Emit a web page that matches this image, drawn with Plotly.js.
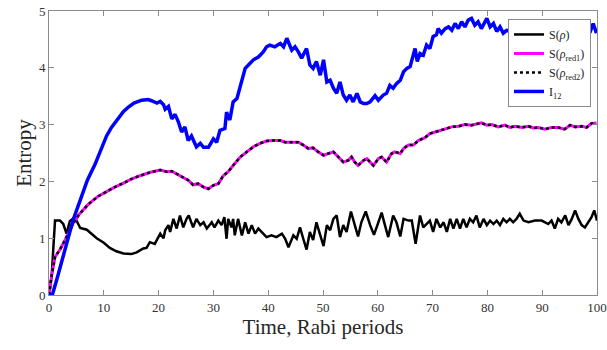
<!DOCTYPE html>
<html>
<head>
<meta charset="utf-8">
<script src="https://cdn.plot.ly/plotly-3.0.1.min.js"></script>
<style>html,body{margin:0;padding:0;background:#fff;}#chart{width:607px;height:350px;}</style>
</head>
<body>
<div id="chart"></div>
<script>
// S(rho)
const tS = [0,0.5,0.8,1.1,2.0,2.6,3.2,3.8,4.7,5.7,6.9,7.8,8.7,10,11.1,12.3,13.6,15,16,17.2,17.8,18.4,19.3,20.3,20.9,21.2,21.8,22.1,22.7,23.3,23.9,24.5,25.1,25.5,26.3,26.9,27.6,28.2,28.8,29.7,30.2,30.9,31.5,32.0,32.4,32.7,33.3,33.6,33.9,34.5,35.2,35.8,36.4,37.0,37.6,38.2,38.8,39.7,40.6,41.5,42.5,43.1,43.7,44.6,45.2,45.8,46.4,47.0,47.6,48.2,48.8,49.5,50.1,50.7,51.3,51.9,52.5,53.1,53.7,54.3,55.1,55.8,56.4,57.0,57.8,58.6,59.3,60.1,60.7,61.3,61.9,62.8,63.4,64.1,64.7,65.6,66.2,66.9,67.7,68.3,68.9,69.5,70.1,70.7,71.4,72.0,72.6,73.2,73.8,74.4,75.0,75.6,76.2,76.8,77.4,78.0,78.6,79.3,79.9,80.5,81.1,81.7,82.3,82.9,83.5,84.1,84.7,85.3,85.9,86.6,87.5,88.7,89.9,91.1,91.7,92.3,92.9,93.5,94.2,94.8,95.4,96.0,96.6,97.2,97.8,98.4,99.0,99.5,100];
const S = [0,0.35,0.84,1.31,1.31,1.25,1.08,1.30,1.37,1.18,1.15,1.08,1.00,0.92,0.83,0.77,0.73,0.72,0.75,0.82,0.83,0.93,0.90,1.08,1.00,1.14,1.23,1.11,1.34,1.17,1.40,1.19,1.34,1.40,1.19,1.34,1.23,1.28,1.17,1.28,1.19,1.31,1.23,1.37,0.99,1.34,1.19,1.34,1.05,1.34,1.05,1.28,1.08,1.23,1.08,1.17,1.11,1.02,1.05,1.02,1.08,0.99,0.84,1.05,0.99,1.19,0.99,0.80,1.11,0.97,1.28,1.05,0.86,1.23,1.14,1.34,1.40,1.02,1.23,1.11,1.47,1.23,1.03,1.28,1.47,1.23,1.06,1.28,1.45,1.23,1.02,1.40,1.28,1.03,1.34,1.31,1.31,0.90,1.40,1.19,1.25,1.31,1.11,1.34,1.19,1.28,1.11,1.34,1.17,1.34,1.17,1.34,1.19,1.34,1.28,1.40,1.19,1.34,1.23,1.31,1.25,1.31,1.23,1.34,1.28,1.34,1.28,1.34,1.43,1.31,1.28,1.31,1.31,1.25,1.31,1.17,1.34,1.28,1.40,1.23,1.34,1.49,1.34,1.23,1.19,1.28,1.37,1.49,1.31];

// S(rho_red1) = S(rho_red2)
const tRed = [0,0.5,1.1,2.0,3.0,4.4,5.5,7.2,9.0,10.5,12.0,13.6,15.0,16.6,18.5,20.3,21.5,22.4,23.6,24.2,25.4,26.3,27.2,28.2,29.1,30.0,30.9,31.8,32.7,33.6,34.9,36.1,37.3,38.5,39.7,40.9,42.2,43.1,44.3,45.5,46.4,47.3,48.2,49.1,50.1,51.0,51.9,52.8,53.7,54.6,55.2,55.8,56.4,57.4,58.0,58.6,59.2,60.1,60.7,61.6,62.5,63.1,64.1,64.7,65.6,66.5,67.4,68.6,69.5,70.5,71.4,72.3,73.5,74.7,75.9,77.1,78.3,78.9,79.9,80.8,82.0,83.2,84.1,85.0,86.3,87.5,88.4,89.3,90.5,91.7,92.9,94.1,95.1,96.0,97.2,98.1,99.0,99.9];
const Sred = [0,0.35,0.67,0.80,0.98,1.26,1.42,1.60,1.74,1.82,1.90,1.97,2.04,2.10,2.16,2.20,2.17,2.18,2.12,2.08,2.02,1.94,1.96,1.90,1.87,1.93,1.96,2.10,2.17,2.28,2.43,2.52,2.61,2.67,2.71,2.72,2.72,2.69,2.69,2.69,2.64,2.58,2.59,2.52,2.46,2.49,2.52,2.43,2.34,2.37,2.43,2.34,2.28,2.37,2.40,2.34,2.28,2.40,2.43,2.34,2.49,2.52,2.49,2.58,2.64,2.64,2.72,2.77,2.84,2.87,2.90,2.93,2.96,2.97,3.00,2.99,3.01,3.03,2.99,3.00,2.96,2.99,2.95,2.97,2.95,2.97,2.94,2.95,2.92,2.95,2.95,2.92,2.99,2.96,2.97,2.95,3.02,3.03];

// I12
const tI = [0,0.6,1.5,2.5,3.5,4.4,5.7,7.0,8.4,9.5,10.5,11.4,12.5,13.6,14.5,15.5,16.9,18.1,18.7,19.7,20.3,20.9,21.2,21.8,22.4,23.0,23.6,24.2,24.8,25.4,26.0,26.9,27.6,28.2,29.1,30.0,30.6,31.2,32.1,32.4,33.0,33.6,34.3,35.2,35.8,36.7,37.3,38.2,39.1,39.7,40.3,41.2,42.2,42.8,43.4,44.3,44.9,45.5,46.1,47.0,47.6,48.2,48.8,49.5,50.1,50.7,51.3,51.9,52.5,53.1,53.7,54.3,54.9,55.5,56.2,56.8,57.4,58.0,58.6,59.5,60.1,61.0,61.6,62.2,62.8,63.4,64.1,64.7,65.3,65.9,66.8,67.2,67.7,68.3,68.9,69.5,70.1,70.7,71.0,71.6,72.3,72.9,73.5,74.1,74.7,75.3,75.9,76.5,77.1,77.7,78.3,78.9,79.6,79.9,80.5,81.1,81.7,82.3,82.9,83.5,84.4,85.3,85.9,86.5,87.2,88,89,90,91,92,93,94,95,96,97,98,98.7,99.3,99.9];
const I12 = [0,0,0.30,0.65,1.00,1.32,1.67,2.02,2.30,2.58,2.80,2.95,3.10,3.23,3.31,3.38,3.43,3.44,3.42,3.38,3.41,3.35,3.27,3.32,3.10,3.18,3.05,2.87,2.96,2.72,2.80,2.61,2.67,2.60,2.60,2.75,2.69,2.90,2.93,3.22,3.08,3.40,3.46,3.75,3.99,4.08,4.14,4.19,4.28,4.37,4.40,4.37,4.43,4.37,4.52,4.31,4.37,4.28,4.17,4.34,4.05,3.99,4.11,3.87,4.14,3.75,3.78,3.64,3.55,3.75,3.52,3.43,3.52,3.40,3.55,3.40,3.37,3.37,3.40,3.51,3.43,3.52,3.55,3.69,3.64,3.72,3.78,3.93,3.99,4.02,4.34,4.11,4.25,4.22,4.40,4.34,4.55,4.58,4.69,4.61,4.69,4.72,4.66,4.78,4.69,4.81,4.72,4.84,4.87,4.75,4.81,4.69,4.84,4.87,4.72,4.78,4.64,4.72,4.61,4.66,4.64,4.61,4.55,4.64,4.58,4.66,4.60,4.68,4.62,4.70,4.63,4.71,4.65,4.72,4.66,4.73,4.62,4.78,4.61];

const names = ['S(<i>ρ</i>)', 'S(<i>ρ</i><sub>red1</sub>)', 'S(<i>ρ</i><sub>red2</sub>)', 'I<sub>12</sub>'];

const FONT = 'Liberation Serif, Times New Roman, serif';
const traces = [
  {x: tS, y: S, name: names[0], mode: 'lines', line: {color: '#000000', width: 2.5}},
  {x: tRed, y: Sred, name: names[1], mode: 'lines', line: {color: '#ff00ff', width: 3}},
  {x: tRed, y: Sred, name: names[2], mode: 'lines', line: {color: '#000000', width: 2.5, dash: 'dot'}},
  {x: tI, y: I12, name: names[3], mode: 'lines', line: {color: '#0000ff', width: 3.5}}
];

const axisCommon = {
  showgrid: false, zeroline: false, showline: true, mirror: 'ticks',
  linecolor: '#8a8a8a', linewidth: 1, ticks: 'inside', ticklen: 5, tickcolor: '#8a8a8a',
  tickfont: {family: FONT, size: 13, color: '#333333'}
};

const layout = {
  width: 607, height: 350,
  margin: {l: 49, r: 10, t: 11, b: 55},
  paper_bgcolor: '#ffffff', plot_bgcolor: '#ffffff',
  font: {family: FONT, color: '#333333'},
  xaxis: Object.assign({}, axisCommon, {
    range: [0, 100], tickvals: [0,10,20,30,40,50,60,70,80,90,100],
    title: {text: 'Time, Rabi periods', font: {family: FONT, size: 21, color: '#262626'}, standoff: 4}
  }),
  yaxis: Object.assign({}, axisCommon, {
    range: [0, 5], tickvals: [0,1,2,3,4,5],
    title: {text: 'Entropy', font: {family: FONT, size: 21, color: '#262626'}, standoff: 1}
  }),
  showlegend: true,
  legend: {
    x: 0.989, y: 0.972, xanchor: 'right', yanchor: 'top',
    bgcolor: '#ffffff', bordercolor: '#8a8a8a', borderwidth: 1,
    font: {family: FONT, size: 12, color: '#222222'},
    itemwidth: 30, tracegroupgap: 0
  }
};

Plotly.newPlot('chart', traces, layout, {displayModeBar: false, staticPlot: true});
</script>
</body>
</html>
